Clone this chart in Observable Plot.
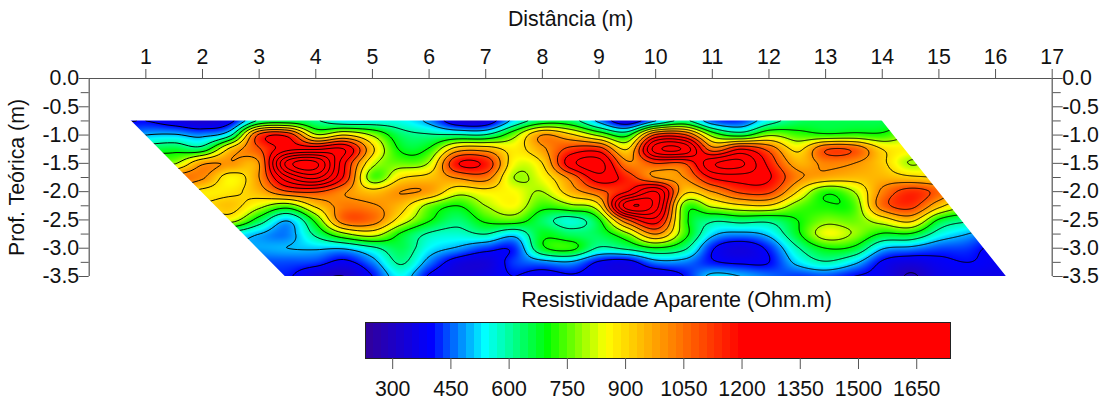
<!DOCTYPE html>
<html><head><meta charset="utf-8">
<script src="https://cdn.jsdelivr.net/npm/d3@7"></script>
<script src="https://cdn.jsdelivr.net/npm/@observablehq/plot@0.6"></script>
<style>html,body{margin:0;padding:0;background:#fff;overflow:hidden}#c svg{display:block;overflow:visible}</style>
</head><body><div id="c"></div>
<script>
const xTicks=[1,2,3,4,5,6,7,8,9,10,11,12,13,14,15,16,17];
const yMajor=[0,-0.5,-1,-1.5,-2,-2.5,-3,-3.5];
const yMinor=[-0.25,-0.75,-1.25,-1.75,-2.25,-2.75,-3.25];
const barTicks=[300,450,600,750,900,1050,1200,1350,1500,1650];
const colorStops=[230,400,540,700,850,1200,1737];
const colorRange=["#330099","#0000ff","#00ffff","#00ff00","#ffff00","#ff0000","#ff0000"];
const contourLevels=[300,400,500,600,700,800,900,1000,1100,1200,1300,1400,1500,1600,1700];
const leftEdge=[{y:-0.6,x:0.6},{y:-0.75,x:0.746},{y:-3.5,x:3.46},{y:-3.65,x:3.6}];
const rightEdge=[{y:-0.6,x:13.88},{y:-0.75,x:14},{y:-3.5,x:16.19},{y:-3.65,x:16.31}];
const gridXStart=0.5,gridXStep=0.5,gridYStart=-0.75,gridYStep=-0.25;
// apparent resistivity, one row per depth, x = 0.5 … 16.5 by 0.5
const r075=[390,400,360,320,380,620,650,610,540,550,550,480,340,340,530,650,640,480,340,500,620,450,430,560,640,650,650,650,660,660,660,660,660];
const r100=[450,500,510,480,590,1120,1170,820,900,790,640,610,610,610,770,1000,920,780,680,1120,1120,770,670,790,740,720,730,720,800,800,800,800,800];
const r125=[620,650,670,650,930,1090,1270,1290,1300,920,690,710,950,960,870,980,1130,1150,900,1450,1480,1050,1200,1070,880,1090,1080,900,860,850,850,850,850];
const r150=[800,800,790,985,995,1000,1640,1720,1220,830,760,810,1190,1170,850,900,1260,1340,1020,1100,1100,1380,1420,1170,960,1020,1000,920,795,850,850,850,850];
const r175=[800,800,1020,1010,860,1000,1380,1520,1180,750,890,930,1010,1040,800,850,1030,1260,1150,1000,1000,1210,1250,1210,1020,960,940,950,920,900,900,900,900];
const r200=[900,950,950,880,880,950,1090,1110,1010,930,1000,980,840,870,850,800,950,1070,1200,1400,930,1000,1120,1120,900,720,800,1020,1140,1060,900,900,900];
const r225=[950,950,950,900,930,830,750,920,1030,1010,940,770,700,800,850,730,780,880,1560,1450,760,820,880,890,760,710,740,1050,1130,930,800,800,800];
const r250=[800,800,800,800,840,660,510,730,1060,1050,860,710,630,720,750,640,570,690,1090,1260,740,620,640,630,700,770,760,850,930,690,620,600,600];
const r275=[560,560,560,560,560,500,470,620,780,840,690,590,570,600,530,680,640,650,780,1000,740,520,480,520,680,840,790,690,690,560,500,450,450];
const r300=[490,490,490,490,490,490,500,510,510,580,650,540,490,430,420,680,720,590,620,690,620,410,350,420,590,700,680,510,480,440,430,380,380];
const r325=[440,440,440,440,440,440,440,430,380,470,610,470,360,340,430,470,490,390,370,470,470,410,390,400,520,590,520,390,350,380,400,380,380];
const r350=[410,410,410,410,410,410,410,330,300,400,540,390,340,360,400,360,390,370,370,340,400,520,500,460,430,440,400,370,290,360,370,360,360];
const rows=[r075,r100,r125,r150,r175,r200,r225,r250,r275,r300,r325,r350];

const cr=(a,b,c,d,t)=>0.5*(2*b+(c-a)*t+(2*a-5*b+4*c-d)*t*t+(3*b-a-3*c+d)*t*t*t);
const nc=rows[0].length,nr=rows.length;
function sample(x,y){
  let u=(x-gridXStart)/gridXStep,v=(y-gridYStart)/gridYStep;
  u=Math.max(0,Math.min(nc-1,u));v=Math.max(0,Math.min(nr-1,v));
  const i=Math.min(nc-2,Math.floor(u)),j=Math.min(nr-2,Math.floor(v)),s=u-i,t=v-j;
  const col=(k,jj)=>rows[Math.max(0,Math.min(nr-1,jj))][Math.max(0,Math.min(nc-1,k))];
  const rowv=jj=>cr(col(i-1,jj),col(i,jj),col(i+1,jj),col(i+2,jj),s);
  return cr(rowv(j-1),rowv(j),rowv(j+1),rowv(j+2),t);
}
const X1=0.5,X2=16.5,Y1=-0.6,Y2=-3.65,W=907,H=173;
const fine=new Float64Array(W*H);
for(let j=0;j<H;j++)for(let i=0;i<W;i++)fine[j*W+i]=sample(X1+(i+.5)/W*(X2-X1),Y1+(j+.5)/H*(Y2-Y1));
const grid={x1:X1,x2:X2,y1:Y1,y2:Y2,width:W,height:H};
const colorScale={type:"linear",domain:colorStops,range:colorRange,interpolate:"rgb",clamp:true};
const font="'Liberation Sans',Arial,sans-serif";
const axisColor="#555";
const yFmt=d=>d===0?"0.0":d.toFixed(1);
const chart=Plot.plot({
  width:1102,height:285,marginLeft:88.7,marginRight:50.3,marginTop:78,marginBottom:9,
  style:{fontFamily:font,background:"#fff",color:"#111"},
  x:{domain:[0,17]},y:{domain:[-3.5,0]},color:colorScale,
  marks:[
    Plot.raster(Array.from(fine),{...grid,fill:Plot.identity}),
    Plot.contour(Array.from(fine),{...grid,value:Plot.identity,fill:"none",stroke:"#000",strokeWidth:1,thresholds:contourLevels,smooth:true}),
    Plot.areaX(leftEdge,{y:"y",x1:()=>0.2,x2:"x",fill:"#fff"}),
    Plot.areaX(rightEdge,{y:"y",x1:"x",x2:()=>16.8,fill:"#fff"}),
    Plot.areaY([0.2,16.8],{x:d=>d,y1:()=>-0.55,y2:()=>-0.75,fill:"#fff"}),
    Plot.areaY([0.2,16.8],{x:d=>d,y1:()=>-3.5,y2:()=>-3.7,fill:"#fff"}),
    Plot.ruleY([0],{stroke:axisColor,strokeWidth:1.2}),
    Plot.ruleX([0,17],{stroke:axisColor,strokeWidth:1.2}),
    Plot.axisX(xTicks,{anchor:"top",tickSize:10,tickPadding:5,fontSize:21.3,stroke:axisColor,label:"Distância (m)",labelAnchor:"center",labelArrow:"none",labelOffset:68,tickFormat:d=>String(d)}),
    Plot.axisY(yMajor,{anchor:"left",tickSize:10,tickPadding:0,fontSize:21.3,stroke:axisColor,tickFormat:yFmt,label:"Prof. Teórica (m)",labelAnchor:"center",labelArrow:"none",labelOffset:80}),
    Plot.axisY(yMajor,{anchor:"right",tickSize:10,tickPadding:0,fontSize:21.3,stroke:axisColor,tickFormat:yFmt,label:null}),
    Plot.axisY(yMinor,{anchor:"left",tickSize:8,stroke:axisColor,tickFormat:()=>"",label:null}),
    Plot.axisY(yMinor,{anchor:"right",tickSize:8,stroke:axisColor,tickFormat:()=>"",label:null})
  ]
});
const barSteps=d3.range(230,1737,20);
const bar=Plot.plot({
  width:1102,height:117,marginLeft:365,marginRight:152,marginTop:37,marginBottom:44,
  style:{fontFamily:font,background:"#fff",color:"#111"},
  x:{domain:[230,1737]},y:{domain:[0,1],axis:null},color:colorScale,
  marks:[
    Plot.rect(barSteps,{x1:d=>d,x2:d=>Math.min(1737,d+20),y1:()=>0,y2:()=>1,fill:d=>d+10,shapeRendering:"crispEdges"}),
    Plot.frame({stroke:"#222",strokeWidth:1}),
    Plot.axisX(barTicks,{anchor:"bottom",tickSize:11,tickPadding:11,fontSize:21.3,stroke:axisColor,tickFormat:d=>String(d),label:null}),
    Plot.text(["Resistividade Aparente (Ohm.m)"],{frameAnchor:"top",dx:18.5,dy:-22,fontSize:21.5,lineAnchor:"middle",fill:"#111"})
  ]
});
document.getElementById("c").append(chart,bar);
</script></body></html>
